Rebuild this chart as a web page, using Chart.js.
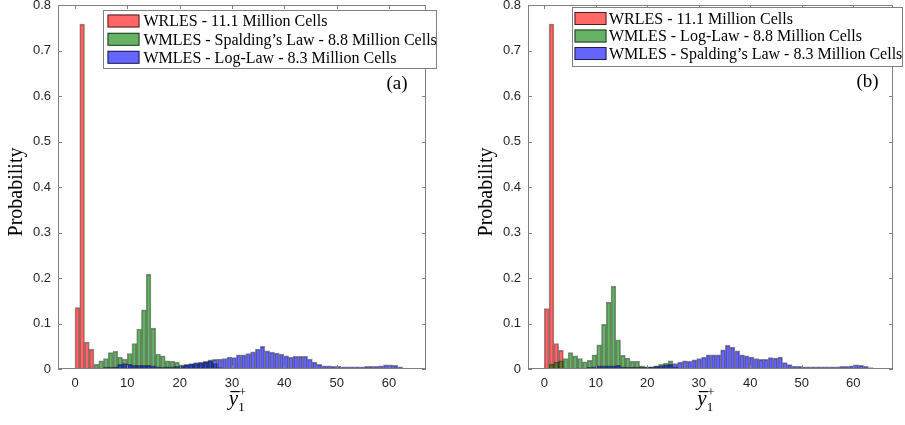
<!DOCTYPE html>
<html>
<head>
<meta charset="utf-8">
<script src="https://cdn.jsdelivr.net/npm/chart.js@4.4.1/dist/chart.umd.min.js"></script>
<style>
  html, body { margin: 0; padding: 0; background: #fff; }
  #wrap { position: relative; width: 905px; height: 425px; overflow: hidden; }
  canvas { position: absolute; top: 0; }
</style>
</head>
<body>
<div id="wrap">
  <canvas id="panelA" width="465" height="425" style="left:0"></canvas>
  <canvas id="panelB" width="440" height="425" style="left:465px"></canvas>
</div>
<script>
// y-ticks and x-ticks shared by both panels
const yTicks = [0, 0.1, 0.2, 0.3, 0.4, 0.5, 0.6, 0.7, 0.8];
const xTicks = [0, 10, 20, 30, 40, 50, 60];

// panel (a) - histogram heights per bin (bin i starts at i * bin width)
const wrlesA = [0.135, 0.758, 0.059, 0.043];
const spaldingA = [0, 0, 0, 0.002, 0.010, 0.018, 0.023, 0.036, 0.039, 0.026, 0.022, 0.034, 0.056, 0.088, 0.130,
  0.208, 0.090, 0.033, 0.029, 0.018, 0.017, 0.015, 0.009, 0.008, 0.010, 0.012, 0.013, 0.015, 0.020, 0.012, 0.003];
const logLawA = [0, 0, 0, 0.001, 0.002, 0.002, 0.004, 0.004, 0.005, 0.010, 0.012, 0.010, 0.008, 0.008, 0.008,
  0.008, 0.007, 0.005, 0.004, 0.005, 0.005, 0.006, 0.007, 0.010, 0.012, 0.014, 0.015, 0.017, 0.018, 0.021,
  0.022, 0.023, 0.026, 0.025, 0.031, 0.031, 0.034, 0.038, 0.044, 0.050, 0.040, 0.037, 0.035, 0.033, 0.029,
  0.026, 0.028, 0.028, 0.028, 0.022, 0.015, 0.010, 0.007, 0.007, 0.006, 0.006, 0.005, 0.005, 0.005, 0.005,
  0.005, 0.006, 0.006, 0.006, 0.007, 0.009, 0.009, 0.008, 0.005, 0.002, 0.001];

// panel (b)
const wrlesB = [0.133, 0.758, 0.056, 0.041];
const logLawB = [0, 0.010, 0.015, 0.018, 0.023, 0.036, 0.029, 0.023, 0.016, 0.019, 0.031, 0.053, 0.098, 0.147,
  0.182, 0.064, 0.030, 0.024, 0.017, 0.017, 0.007, 0.005, 0.005, 0.007, 0.010, 0.013, 0.018, 0.004, 0.002];
const spaldingB = [0, 0, 0, 0, 0.001, 0.001, 0.002, 0.002, 0.002, 0.004, 0.005, 0.007, 0.007, 0.007, 0.007,
  0.008, 0.005, 0.004, 0.004, 0.004, 0.004, 0.004, 0.005, 0.006, 0.007, 0.009, 0.010, 0.012, 0.015, 0.018,
  0.017, 0.020, 0.023, 0.026, 0.031, 0.031, 0.031, 0.042, 0.052, 0.048, 0.040, 0.031, 0.029, 0.026, 0.023,
  0.021, 0.021, 0.025, 0.024, 0.026, 0.014, 0.0095, 0.0066, 0.006, 0.005, 0.005, 0.005, 0.005, 0.005, 0.005,
  0.005, 0.005, 0.006, 0.006, 0.007, 0.009, 0.008, 0.006, 0.003, 0.001];

const RED = 'rgba(255, 0, 0, 0.6)';
const GREEN = 'rgba(0, 128, 0, 0.6)';
const BLUE = 'rgba(0, 0, 255, 0.6)';
const EDGE = 'rgba(0, 0, 0, 0.45)';
const AXIS = '#808080';
const TICKTXT = '#262626';

// draws the box, inward tick marks, legend, axis labels and panel tag
const panelDecor = {
    id: 'panelDecor',
    afterDraw(chart, args, opts) {
        const { ctx, chartArea: a } = chart;
        const xs = chart.scales.x, ys = chart.scales.y;
        ctx.save();

        // axes box
        ctx.strokeStyle = AXIS;
        ctx.lineWidth = 1;
        ctx.strokeRect(Math.round(a.left) + 0.5, Math.round(a.top) + 0.5,
            Math.round(a.right - a.left) - 1, Math.round(a.bottom - a.top) - 1);

        // tick marks pointing inward
        const tl = 4;
        ctx.beginPath();
        xs.ticks.forEach(t => {
            const px = Math.round(xs.getPixelForValue(t.value)) + 0.5;
            ctx.moveTo(px, a.bottom); ctx.lineTo(px, a.bottom - tl);
            ctx.moveTo(px, a.top); ctx.lineTo(px, a.top + tl);
        });
        ys.ticks.forEach(t => {
            const py = Math.round(ys.getPixelForValue(t.value)) + 0.5;
            ctx.moveTo(a.left, py); ctx.lineTo(a.left + tl, py);
            ctx.moveTo(a.right, py); ctx.lineTo(a.right - tl, py);
        });
        ctx.stroke();

        // legend
        const lb = opts.legendBox;
        ctx.fillStyle = '#fff';
        ctx.fillRect(lb[0], lb[1], lb[2] - lb[0], lb[3] - lb[1]);
        ctx.strokeStyle = AXIS;
        ctx.strokeRect(lb[0] + 0.5, lb[1] + 0.5, lb[2] - lb[0] - 1, lb[3] - lb[1] - 1);
        ctx.font = '16px "Liberation Serif"';
        ctx.textBaseline = 'middle';
        ctx.textAlign = 'left';
        chart.data.datasets.forEach((ds, i) => {
            const ry = opts.legendRows[i];
            ctx.fillStyle = ds.backgroundColor;
            ctx.fillRect(opts.swatch[0], ry - 6.5, opts.swatch[1] - opts.swatch[0], 13);
            ctx.strokeStyle = 'rgba(0,0,0,0.7)';
            ctx.strokeRect(opts.swatch[0] + 0.5, ry - 6, opts.swatch[1] - opts.swatch[0] - 1, 12);
            ctx.fillStyle = '#000';
            ctx.fillText(ds.label, opts.textX, ry + 1);
        });

        // panel tag (a)/(b)
        ctx.font = '19px "Liberation Serif"';
        ctx.textAlign = 'center';
        ctx.fillText(opts.tag, opts.tagPos[0], opts.tagPos[1]);

        // y label
        ctx.save();
        ctx.translate(opts.yLabelX, (a.top + a.bottom) / 2 + 5);
        ctx.rotate(-Math.PI / 2);
        ctx.font = '20px "Liberation Serif"';
        ctx.fillText('Probability', 0, 0);
        ctx.restore();

        // x label: y-bar with subscript 1 and superscript +
        const cx = (a.left + a.right) / 2 - 5;
        const base = 405;
        ctx.textAlign = 'left';
        ctx.textBaseline = 'alphabetic';
        ctx.font = 'italic 21px "Liberation Serif"';
        const wy = ctx.measureText('y').width;
        const x0 = cx - (wy + 7) / 2;
        ctx.fillText('y', x0, base);
        ctx.fillRect(x0 + 1.5, base - 14, wy, 1.2);
        ctx.font = '13px "Liberation Serif"';
        ctx.fillText('1', x0 + wy, base + 6);
        ctx.fillText('+', x0 + wy + 0.5, base - 9);

        ctx.restore();
    }
};

function histPoints(vals, binWidth) {
    return vals.map((v, i) => ({ x: (i + 0.5) * binWidth, y: v })).filter(d => d.y > 0);
}

function buildPanel(canvasId, p) {
    const series = [
        { label: p.labels[0], vals: p.red, color: RED, order: 3 },
        { label: p.labels[1], vals: p.green, color: GREEN, order: 2 },
        { label: p.labels[2], vals: p.blue, color: BLUE, order: 1 }
    ];
    return new Chart(document.getElementById(canvasId).getContext('2d'), {
        type: 'bar',
        data: {
            datasets: series.map(s => ({
                label: s.label,
                data: histPoints(s.vals, p.binWidth),
                backgroundColor: s.color,
                borderColor: EDGE,
                borderWidth: 1,
                borderSkipped: 'start',
                order: s.order,
                grouped: false,
                barPercentage: 1,
                categoryPercentage: 1
            }))
        },
        options: {
            responsive: false,
            animation: false,
            events: [],
            layout: { padding: { left: 0, top: 5, right: p.padRight, bottom: 0 } },
            plugins: {
                legend: { display: false },
                tooltip: { enabled: false },
                panelDecor: {
                    legendBox: p.legendBox,
                    legendRows: p.legendRows,
                    swatch: p.swatch,
                    textX: p.textX,
                    tag: p.tag,
                    tagPos: p.tagPos,
                    yLabelX: p.yLabelX
                }
            },
            scales: {
                x: {
                    type: 'linear',
                    min: p.xMin,
                    max: p.xMax,
                    offset: false,
                    grid: { display: false, drawTicks: false, offset: false },
                    border: { display: false },
                    afterBuildTicks: (scale) => { scale.ticks = xTicks.map(v => ({ value: v })); },
                    ticks: {
                        includeBounds: false,
                        autoSkip: false,
                        maxRotation: 0,
                        padding: 7,
                        color: TICKTXT,
                        font: { family: 'Liberation Sans', size: 13 }
                    },
                    afterFit: (scale) => {
                        scale.height = 56;
                        scale.paddingLeft = 0;
                        scale.paddingRight = 0;
                    }
                },
                y: {
                    type: 'linear',
                    min: 0,
                    max: 0.8,
                    grid: { display: false, drawTicks: false },
                    border: { display: false },
                    afterBuildTicks: (scale) => { scale.ticks = yTicks.map(v => ({ value: v })); },
                    ticks: {
                        padding: 7,
                        color: TICKTXT,
                        font: { family: 'Liberation Sans', size: 13 },
                        callback: (v) => (v === 0 ? '0' : v.toFixed(1))
                    },
                    afterFit: (scale) => {
                        scale.width = p.yWidth;
                        scale.paddingTop = 0;
                        scale.paddingBottom = 0;
                    }
                }
            }
        },
        plugins: [panelDecor]
    });
}

buildPanel('panelA', {
    red: wrlesA, green: spaldingA, blue: logLawA,
    labels: ['WRLES - 11.1 Million Cells', 'WMLES - Spalding\u2019s Law - 8.8 Million Cells', 'WMLES - Log-Law - 8.3 Million Cells'],
    binWidth: 0.907,
    xMin: -3.25, xMax: 67.07,
    yWidth: 58, padRight: 39,
    legendBox: [103, 10, 437, 69],
    legendRows: [21, 39.3, 57.3],
    swatch: [107.5, 139.5],
    textX: 143.5,
    tag: '(a)', tagPos: [397, 84],
    yLabelX: 17
});

buildPanel('panelB', {
    red: wrlesB, green: logLawB, blue: spaldingB,
    labels: ['WRLES - 11.1 Million Cells', 'WMLES - Log-Law - 8.8 Million Cells', 'WMLES - Spalding\u2019s Law - 8.3 Million Cells'],
    binWidth: 0.925,
    xMin: -3.17, xMax: 67.7,
    yWidth: 63, padRight: 12,
    legendBox: [107, 7, 438, 67],
    legendRows: [18.5, 36, 53.5],
    swatch: [109.5, 141.5],
    textX: 144,
    tag: '(b)', tagPos: [402.5, 82],
    yLabelX: 22
});
</script>
</body>
</html>
